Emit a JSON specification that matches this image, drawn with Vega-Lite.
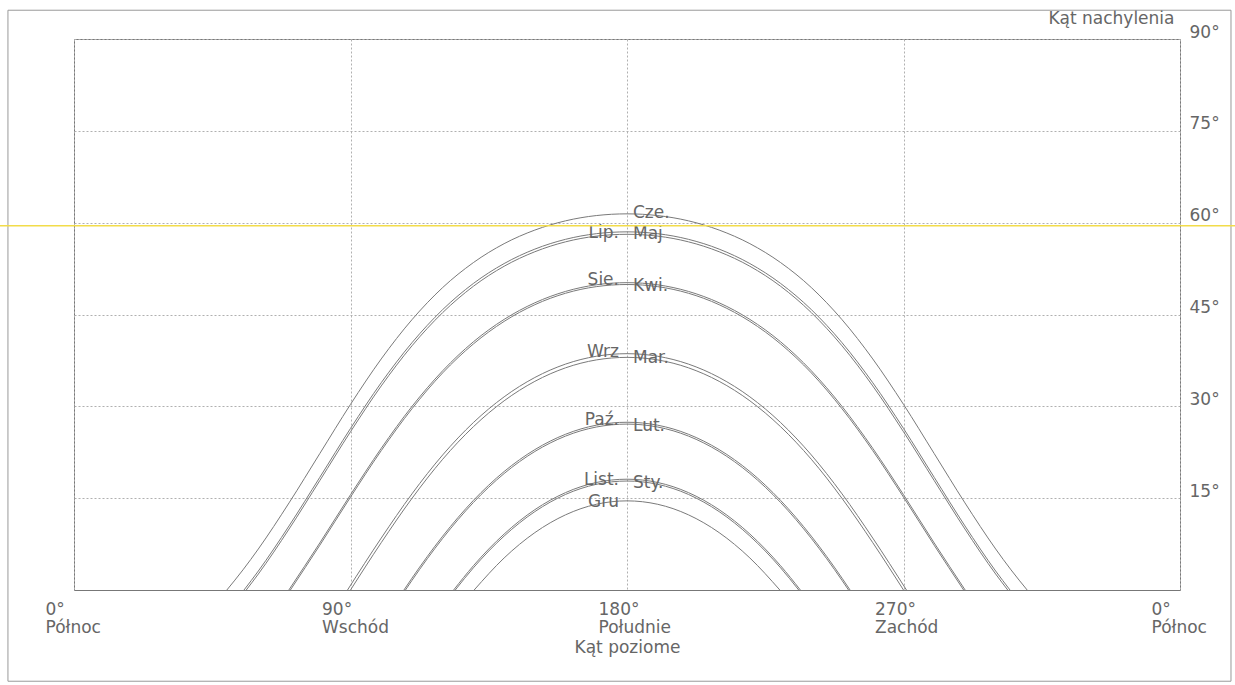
{
"$schema": "https://vega.github.io/schema/vega-lite/v6.json",
"width": 1106, "height": 551,
"autosize": {"type": "none"},
"padding": {"left": 74, "top": 39, "right": 55, "bottom": 95},
"background": "white",
"config": {"view": {"stroke": "#777", "strokeWidth": 1}, "font": "DejaVu Sans"},
"datasets": {
"paths": [
{"m":"Cze","a":49.75,"h":0},{"m":"Cze","a":55,"h":3.29},{"m":"Cze","a":60,"h":6.70},{"m":"Cze","a":70,"h":14.23},{"m":"Cze","a":80,"h":22.28},{"m":"Cze","a":90,"h":30.32},{"m":"Cze","a":100,"h":37.74},{"m":"Cze","a":110,"h":44.15},{"m":"Cze","a":120,"h":49.40},{"m":"Cze","a":130,"h":53.48},{"m":"Cze","a":140,"h":56.57},{"m":"Cze","a":150,"h":58.79},{"m":"Cze","a":160,"h":60.30},{"m":"Cze","a":170,"h":61.16},{"m":"Cze","a":180,"h":61.44},{"m":"Cze","a":190,"h":61.16},{"m":"Cze","a":200,"h":60.30},{"m":"Cze","a":210,"h":58.79},{"m":"Cze","a":220,"h":56.57},{"m":"Cze","a":230,"h":53.48},{"m":"Cze","a":240,"h":49.40},{"m":"Cze","a":250,"h":44.15},{"m":"Cze","a":260,"h":37.74},{"m":"Cze","a":270,"h":30.32},{"m":"Cze","a":280,"h":22.28},{"m":"Cze","a":290,"h":14.23},{"m":"Cze","a":300,"h":6.70},{"m":"Cze","a":305,"h":3.29},{"m":"Cze","a":310.25,"h":0},
{"m":"Lip","a":55.33,"h":0},{"m":"Lip","a":60,"h":3.10},{"m":"Lip","a":70,"h":10.47},{"m":"Lip","a":80,"h":18.40},{"m":"Lip","a":90,"h":26.39},{"m":"Lip","a":100,"h":33.86},{"m":"Lip","a":110,"h":40.39},{"m":"Lip","a":120,"h":45.80},{"m":"Lip","a":130,"h":50.07},{"m":"Lip","a":140,"h":53.32},{"m":"Lip","a":150,"h":55.68},{"m":"Lip","a":160,"h":57.28},{"m":"Lip","a":170,"h":58.20},{"m":"Lip","a":180,"h":58.50},{"m":"Lip","a":190,"h":58.20},{"m":"Lip","a":200,"h":57.28},{"m":"Lip","a":210,"h":55.68},{"m":"Lip","a":220,"h":53.32},{"m":"Lip","a":230,"h":50.07},{"m":"Lip","a":240,"h":45.80},{"m":"Lip","a":250,"h":40.39},{"m":"Lip","a":260,"h":33.86},{"m":"Lip","a":270,"h":26.39},{"m":"Lip","a":280,"h":18.40},{"m":"Lip","a":290,"h":10.47},{"m":"Lip","a":300,"h":3.10},{"m":"Lip","a":304.67,"h":0},
{"m":"Maj","a":56.07,"h":0},{"m":"Maj","a":60,"h":2.61},{"m":"Maj","a":70,"h":9.96},{"m":"Maj","a":80,"h":17.87},{"m":"Maj","a":90,"h":25.85},{"m":"Maj","a":100,"h":33.33},{"m":"Maj","a":110,"h":39.88},{"m":"Maj","a":120,"h":45.31},{"m":"Maj","a":130,"h":49.61},{"m":"Maj","a":140,"h":52.88},{"m":"Maj","a":150,"h":55.25},{"m":"Maj","a":160,"h":56.87},{"m":"Maj","a":170,"h":57.80},{"m":"Maj","a":180,"h":58.10},{"m":"Maj","a":190,"h":57.80},{"m":"Maj","a":200,"h":56.87},{"m":"Maj","a":210,"h":55.25},{"m":"Maj","a":220,"h":52.88},{"m":"Maj","a":230,"h":49.61},{"m":"Maj","a":240,"h":45.31},{"m":"Maj","a":250,"h":39.88},{"m":"Maj","a":260,"h":33.33},{"m":"Maj","a":270,"h":25.85},{"m":"Maj","a":280,"h":17.87},{"m":"Maj","a":290,"h":9.96},{"m":"Maj","a":300,"h":2.61},{"m":"Maj","a":303.93,"h":0},
{"m":"Sie","a":69.93,"h":0},{"m":"Sie","a":80,"h":7.68},{"m":"Sie","a":90,"h":15.56},{"m":"Sie","a":100,"h":23.14},{"m":"Sie","a":110,"h":29.98},{"m":"Sie","a":120,"h":35.81},{"m":"Sie","a":130,"h":40.54},{"m":"Sie","a":140,"h":44.20},{"m":"Sie","a":150,"h":46.91},{"m":"Sie","a":160,"h":48.77},{"m":"Sie","a":170,"h":49.85},{"m":"Sie","a":180,"h":50.20},{"m":"Sie","a":190,"h":49.85},{"m":"Sie","a":200,"h":48.77},{"m":"Sie","a":210,"h":46.91},{"m":"Sie","a":220,"h":44.20},{"m":"Sie","a":230,"h":40.54},{"m":"Sie","a":240,"h":35.81},{"m":"Sie","a":250,"h":29.98},{"m":"Sie","a":260,"h":23.14},{"m":"Sie","a":270,"h":15.56},{"m":"Sie","a":280,"h":7.68},{"m":"Sie","a":290.07,"h":0},
{"m":"Kwi","a":70.43,"h":0},{"m":"Kwi","a":80,"h":7.30},{"m":"Kwi","a":90,"h":15.17},{"m":"Kwi","a":100,"h":22.76},{"m":"Kwi","a":110,"h":29.60},{"m":"Kwi","a":120,"h":35.46},{"m":"Kwi","a":130,"h":40.19},{"m":"Kwi","a":140,"h":43.87},{"m":"Kwi","a":150,"h":46.60},{"m":"Kwi","a":160,"h":48.47},{"m":"Kwi","a":170,"h":49.55},{"m":"Kwi","a":180,"h":49.90},{"m":"Kwi","a":190,"h":49.55},{"m":"Kwi","a":200,"h":48.47},{"m":"Kwi","a":210,"h":46.60},{"m":"Kwi","a":220,"h":43.87},{"m":"Kwi","a":230,"h":40.19},{"m":"Kwi","a":240,"h":35.46},{"m":"Kwi","a":250,"h":29.60},{"m":"Kwi","a":260,"h":22.76},{"m":"Kwi","a":270,"h":15.17},{"m":"Kwi","a":280,"h":7.30},{"m":"Kwi","a":289.57,"h":0},
{"m":"Wrz","a":89.03,"h":0},{"m":"Wrz","a":100,"h":8.48},{"m":"Wrz","a":110,"h":15.70},{"m":"Wrz","a":120,"h":22.06},{"m":"Wrz","a":130,"h":27.35},{"m":"Wrz","a":140,"h":31.55},{"m":"Wrz","a":150,"h":34.71},{"m":"Wrz","a":160,"h":36.90},{"m":"Wrz","a":170,"h":38.18},{"m":"Wrz","a":180,"h":38.60},{"m":"Wrz","a":190,"h":38.18},{"m":"Wrz","a":200,"h":36.90},{"m":"Wrz","a":210,"h":34.71},{"m":"Wrz","a":220,"h":31.55},{"m":"Wrz","a":230,"h":27.35},{"m":"Wrz","a":240,"h":22.06},{"m":"Wrz","a":250,"h":15.70},{"m":"Wrz","a":260,"h":8.48},{"m":"Wrz","a":270.97,"h":0},
{"m":"Mar","a":90,"h":0},{"m":"Mar","a":100,"h":7.73},{"m":"Mar","a":110,"h":14.96},{"m":"Mar","a":120,"h":21.35},{"m":"Mar","a":130,"h":26.67},{"m":"Mar","a":140,"h":30.90},{"m":"Mar","a":150,"h":34.08},{"m":"Mar","a":160,"h":36.29},{"m":"Mar","a":170,"h":37.58},{"m":"Mar","a":180,"h":38.00},{"m":"Mar","a":190,"h":37.58},{"m":"Mar","a":200,"h":36.29},{"m":"Mar","a":210,"h":34.08},{"m":"Mar","a":220,"h":30.90},{"m":"Mar","a":230,"h":26.67},{"m":"Mar","a":240,"h":21.35},{"m":"Mar","a":250,"h":14.96},{"m":"Mar","a":260,"h":7.73},{"m":"Mar","a":270,"h":0},
{"m":"Paz","a":107.89,"h":0},{"m":"Paz","a":110,"h":1.56},{"m":"Paz","a":120,"h":8.43},{"m":"Paz","a":130,"h":14.29},{"m":"Paz","a":140,"h":19.02},{"m":"Paz","a":150,"h":22.62},{"m":"Paz","a":160,"h":25.14},{"m":"Paz","a":170,"h":26.62},{"m":"Paz","a":180,"h":27.10},{"m":"Paz","a":190,"h":26.62},{"m":"Paz","a":200,"h":25.14},{"m":"Paz","a":210,"h":22.62},{"m":"Paz","a":220,"h":19.02},{"m":"Paz","a":230,"h":14.29},{"m":"Paz","a":240,"h":8.43},{"m":"Paz","a":250,"h":1.56},{"m":"Paz","a":252.11,"h":0},
{"m":"Lut","a":107.39,"h":0},{"m":"Lut","a":110,"h":1.93},{"m":"Lut","a":120,"h":8.79},{"m":"Lut","a":130,"h":14.63},{"m":"Lut","a":140,"h":19.35},{"m":"Lut","a":150,"h":22.93},{"m":"Lut","a":160,"h":25.44},{"m":"Lut","a":170,"h":26.92},{"m":"Lut","a":180,"h":27.40},{"m":"Lut","a":190,"h":26.92},{"m":"Lut","a":200,"h":25.44},{"m":"Lut","a":210,"h":22.93},{"m":"Lut","a":220,"h":19.35},{"m":"Lut","a":230,"h":14.63},{"m":"Lut","a":240,"h":8.79},{"m":"Lut","a":250,"h":1.93},{"m":"Lut","a":252.61,"h":0},
{"m":"List","a":123.57,"h":0},{"m":"List","a":130,"h":3.96},{"m":"List","a":140,"h":9.14},{"m":"List","a":150,"h":13.12},{"m":"List","a":160,"h":15.91},{"m":"List","a":170,"h":17.56},{"m":"List","a":180,"h":18.10},{"m":"List","a":190,"h":17.56},{"m":"List","a":200,"h":15.91},{"m":"List","a":210,"h":13.12},{"m":"List","a":220,"h":9.14},{"m":"List","a":230,"h":3.96},{"m":"List","a":236.43,"h":0},
{"m":"Sty","a":124.11,"h":0},{"m":"Sty","a":130,"h":3.62},{"m":"Sty","a":140,"h":8.81},{"m":"Sty","a":150,"h":12.80},{"m":"Sty","a":160,"h":15.61},{"m":"Sty","a":170,"h":17.26},{"m":"Sty","a":180,"h":17.80},{"m":"Sty","a":190,"h":17.26},{"m":"Sty","a":200,"h":15.61},{"m":"Sty","a":210,"h":12.80},{"m":"Sty","a":220,"h":8.81},{"m":"Sty","a":230,"h":3.62},{"m":"Sty","a":235.89,"h":0},
{"m":"Gru","a":130.25,"h":0},{"m":"Gru","a":140,"h":5.23},{"m":"Gru","a":150,"h":9.37},{"m":"Gru","a":160,"h":12.28},{"m":"Gru","a":170,"h":14.00},{"m":"Gru","a":180,"h":14.56},{"m":"Gru","a":190,"h":14.00},{"m":"Gru","a":200,"h":12.28},{"m":"Gru","a":210,"h":9.37},{"m":"Gru","a":220,"h":5.23},{"m":"Gru","a":229.75,"h":0}
],
"labels": [
{"t":"Lip.","h":58.3,"side":"L"},{"t":"Sie.","h":50.6,"side":"L"},{"t":"Wrz","h":38.9,"side":"L"},{"t":"Paź.","h":27.7,"side":"L"},{"t":"List.","h":18.0,"side":"L"},{"t":"Gru","h":14.4,"side":"L"},
{"t":"Cze.","h":61.6,"side":"R"},{"t":"Maj","h":58.2,"side":"R"},{"t":"Kwi.","h":49.7,"side":"R"},{"t":"Mar.","h":37.9,"side":"R"},{"t":"Lut.","h":26.8,"side":"R"},{"t":"Sty.","h":17.5,"side":"R"}
]
},
"layer": [
{
"data": {"name": "paths"},
"mark": {"type": "line", "interpolate": "monotone", "color": "#7a7a7a", "strokeWidth": 1},
"encoding": {
"x": {"field": "a", "type": "quantitative", "scale": {"domain": [0, 360], "nice": false, "zero": false},
"axis": {"values": [0, 90, 180, 270, 360], "grid": true, "gridDash": [2, 2], "gridColor": "#b0b0b0", "gridWidth": 1, "ticks": false, "domain": false,
"labelExpr": "datum.value == 90 ? ['90°','Wschód'] : datum.value == 180 ? ['180°','Południe'] : datum.value == 270 ? ['270°','Zachód'] : ['0°','Północ']",
"labelAlign": "left", "labelOffset": -29, "labelPadding": 11, "labelBaseline": "top", "labelFontSize": 17, "labelLineHeight": 18, "labelColor": "#666", "labelFlush": false, "labelOverlap": false, "labelBound": false,
"title": "Kąt poziome", "titleFontSize": 17, "titleFontWeight": "normal", "titleColor": "#666", "titleY": 49, "titleBaseline": "top"}},
"y": {"field": "h", "type": "quantitative", "scale": {"domain": [0, 90], "nice": false},
"axis": {"orient": "right", "values": [15, 30, 45, 60, 75, 90], "grid": true, "gridDash": [2, 2], "gridColor": "#b0b0b0", "gridWidth": 1, "ticks": false, "domain": false,
"labelExpr": "datum.value + '°'", "labelAlign": "left", "labelPadding": 9, "labelOffset": -7, "labelFontSize": 17, "labelColor": "#666", "labelFlush": false, "labelOverlap": false,
"title": "Kąt nachylenia", "titleAngle": 0, "titleAlign": "right", "titleBaseline": "alphabetic", "titleX": -6, "titleY": -16, "titleFontSize": 17, "titleFontWeight": "normal", "titleColor": "#666"}},
"detail": {"field": "m"}
}
},
{
"data": {"values": [{}]},
"mark": {"type": "rect", "filled": false, "stroke": "#999", "strokeWidth": 1},
"encoding": {
"x": {"datum": -21.5, "type": "quantitative"},
"x2": {"datum": 376.6},
"y": {"datum": 94.7, "type": "quantitative"},
"y2": {"datum": -14.9}
}
},
{
"data": {"name": "labels"},
"transform": [{"filter": "datum.side == 'L'"}],
"mark": {"type": "text", "align": "right", "baseline": "middle", "dx": -8, "fontSize": 17, "color": "#666"},
"encoding": {
"x": {"datum": 180, "type": "quantitative"},
"y": {"field": "h", "type": "quantitative"},
"text": {"field": "t"}
}
},
{
"data": {"name": "labels"},
"transform": [{"filter": "datum.side == 'R'"}],
"mark": {"type": "text", "align": "left", "baseline": "middle", "dx": 6, "fontSize": 17, "color": "#666"},
"encoding": {
"x": {"datum": 180, "type": "quantitative"},
"y": {"field": "h", "type": "quantitative"},
"text": {"field": "t"}
}
},
{
"data": {"values": [{}]},
"mark": {"type": "rule", "color": "#f2dc4a", "strokeWidth": 1.5},
"encoding": {
"x": {"datum": -24.1, "type": "quantitative"},
"x2": {"datum": 378},
"y": {"datum": 59.5, "type": "quantitative"}
}
}
]
}
